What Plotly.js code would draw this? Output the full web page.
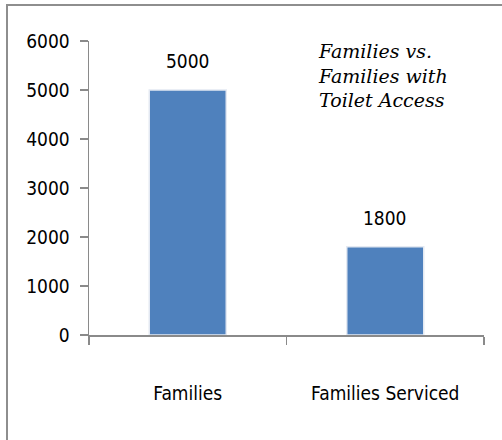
<!DOCTYPE html>
<html>
<head>
<meta charset="utf-8">
<script src="https://cdn.plot.ly/plotly-3.0.1.min.js"></script>
<style>
  html, body { margin: 0; padding: 0; background: #fff; }
  #wrap { position: relative; width: 502px; height: 440px; }
  #chart { position: absolute; left: 0; top: 0; width: 502px; height: 440px; }
  #frame { position: absolute; left: 6px; top: 4px; width: 496px; height: 436px;
           border-top: 2px solid #8e8e8e; border-left: 2px solid #8e8e8e; box-sizing: border-box; pointer-events: none; }
</style>
</head>
<body>
<div id="wrap">
  <div id="chart"></div>
  <div id="frame"></div>
</div>
<script>
const categories = ["Families", "Families Serviced"];
const values = [5000, 1800];
const yTicks = [0, 1000, 2000, 3000, 4000, 5000, 6000];
const titleText = "Families vs.<br>Families with<br>Toilet Access";

const labelFont = "DejaVu Sans Condensed, Liberation Sans Narrow, Arial Narrow, sans-serif";

const trace = {
  type: "bar",
  x: categories,
  y: values,
  width: 0.39,
  marker: { color: "#4F81BD", line: { color: "#E4E9F2", width: 1.5 } },
  hoverinfo: "none"
};

const annotations = categories.map((c, i) => ({
  x: c, y: values[i], xref: "x", yref: "y",
  text: String(values[i]),
  showarrow: false, yanchor: "bottom", yshift: 16,
  font: { family: labelFont, size: 19, color: "#000" }
}));

const layout = {
  width: 502, height: 440,
  margin: { l: 89, r: 18, t: 41, b: 105 },
  paper_bgcolor: "#fff", plot_bgcolor: "#fff",
  showlegend: false,
  bargap: 0,
  title: {
    text: titleText,
    x: 319 / 502, xref: "container", xanchor: "left",
    y: 1 - 58 / 440, yref: "container", yanchor: "top",
    font: { family: "DejaVu Serif, Georgia, serif", size: 19, color: "#000", style: "italic" }
  },
  xaxis: {
    type: "category",
    range: [-0.5, 1.5],
    showline: true, linecolor: "#8a8a8a", linewidth: 1.5,
    ticks: "outside", tickson: "boundaries", ticklen: 8, tickcolor: "#8a8a8a", tickwidth: 1.5,
    showgrid: false, zeroline: false,
    ticklabelstandoff: 41,
    tickfont: { family: labelFont, size: 19, color: "#000" }
  },
  yaxis: {
    range: [0, 6000],
    tickvals: yTicks,
    ticktext: yTicks.map(String),
    showline: true, linecolor: "#8a8a8a", linewidth: 1.5,
    ticks: "outside", ticklen: 8, tickcolor: "#8a8a8a", tickwidth: 1.5,
    showgrid: false, zeroline: false,
    ticklabelstandoff: 6,
    tickfont: { family: labelFont, size: 19, color: "#000" }
  },
  annotations: annotations
};

Plotly.newPlot("chart", [trace], layout, { displayModeBar: false, staticPlot: true });
</script>
</body>
</html>
